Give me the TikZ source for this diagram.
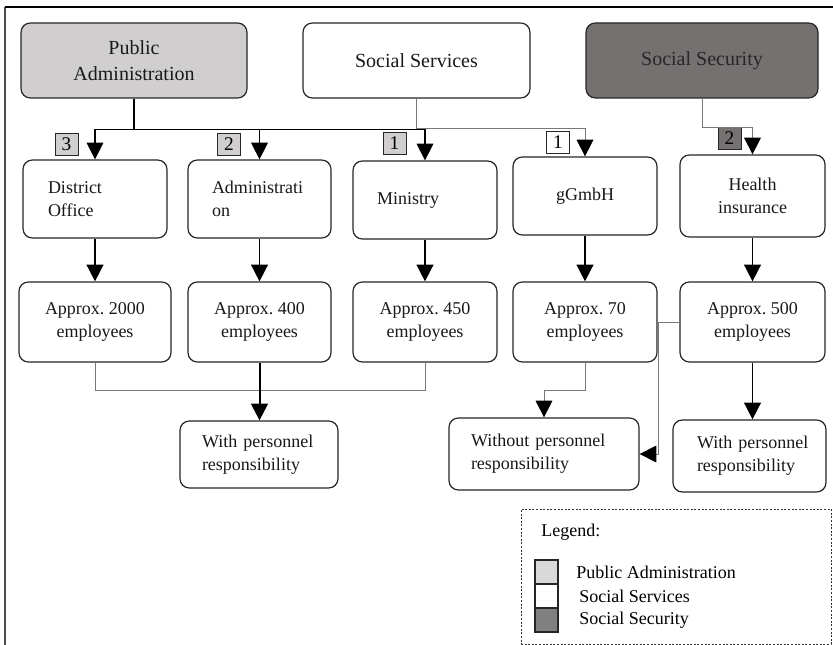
\documentclass[tikz,border=0pt]{standalone}
\usepackage{fontspec}
\setmainfont{Liberation Serif}
\usetikzlibrary{arrows.meta}
\definecolor{palight}{RGB}{208,206,206}
\definecolor{secdark}{RGB}{118,113,113}
\definecolor{legdark}{RGB}{128,128,128}
\definecolor{legl}{RGB}{217,217,217}
\definecolor{conngray}{RGB}{120,120,120}
\begin{document}
\begin{tikzpicture}[x=0.75pt,y=-0.75pt,
  sz/.style 2 args={minimum width=#1*0.75pt, minimum height=#2*0.75pt},
  lt/.style={align=left, text width=#1*0.75pt},
  box/.style={draw=black!85, line width=0.9pt, rounded corners=7pt, inner sep=0pt, fill=white, text=black!90, font=\fontsize{13.5}{17}\selectfont},
  head/.style={box, font=\fontsize{15}{19}\selectfont, align=center},
  tag/.style={draw=black!85, line width=0.6pt, minimum width=23*0.75pt, minimum height=22*0.75pt, inner sep=0pt, font=\fontsize{14.5}{14}\selectfont},
  tip/.style={-{Triangle[width=12.5pt,length=12.5pt,color=black]}},
  conn/.style={tip, line width=0.8pt, draw=black},
  grayconn/.style={tip, line width=0.7pt, draw=conngray},
  heavy/.style={tip, line width=1.2pt, draw=black},
  sw/.style={draw=black!85, line width=0.8pt, minimum width=23*0.75pt, minimum height=24*0.75pt, inner sep=0pt},
  legtxt/.style={anchor=west, inner sep=0pt, font=\fontsize{13.5}{16}\selectfont}
]
\useasboundingbox (0,0) rectangle (833,645);
\fill[white] (0,0) rectangle (833,645);
% frame
\draw[black!70, line width=1.3pt] (5,7) -- (5,645);
\draw[black, line width=1.1pt] (5,7) -- (833,7);

% headers
\node[head, fill=palight, sz={226}{75}] (pa) at (134,60.5) {Public\\Administration};
\node[head, fill=white, sz={227}{75}] (ss) at (416.5,60.5) {Social Services};
\node[head, fill=secdark, sz={232}{75}, text=black!85] (sec) at (702,60.5) {Social Security};

% row 1
\node[box, sz={144}{78}, lt={94}] (district) at (95,199) {District\\Office};
\node[box, sz={143}{78}, lt={95}] (admin) at (259.5,199) {Administrati\\on};
\node[box, sz={144}{78}, lt={96}] (ministry) at (425,200) {Ministry};
\node[box, sz={144}{78}, align=center] (ggmbh) at (585,196) {gGmbH};
\node[box, sz={145}{82}, align=center] (health) at (752.5,196) {Health\\insurance};

% row 2
\node[box, sz={152}{80}, align=center] (e2000) at (95,322) {Approx.~2000\\employees};
\node[box, sz={143}{80}, align=center] (e400) at (259.5,322) {Approx.~400\\employees};
\node[box, sz={144}{80}, align=center] (e450) at (425,322) {Approx.~450\\employees};
\node[box, sz={144}{80}, align=center] (e70) at (585,322) {Approx.~70\\employees};
\node[box, sz={145}{80}, align=center] (e500) at (752.5,322) {Approx.~500\\employees};

% bottom row
\node[box, sz={158}{67}, lt={114}] (wp1) at (259,454.5) {\mbox{With personnel}\\\mbox{responsibility}};
\node[box, sz={190}{72}, lt={146}] (wop) at (544,454) {\mbox{Without personnel}\\\mbox{responsibility}};
\node[box, sz={153}{72}, lt={105}] (wp2) at (749.5,456) {\mbox{With personnel}\\\mbox{responsibility}};

% tags
\node[tag, fill=palight] (t3) at (66.5,144) {3};
\node[tag, fill=palight] (t2) at (229,144) {2};
\node[tag, fill=palight] (t1a) at (394.5,143) {1};
\node[tag, fill=white] (t1b) at (558,142) {1};
\node[tag, fill=secdark] (t2b) at (729.5,138.5) {2};

% connectors from headers
\draw[conn] (pa.south) -- ++(0,31) -| (district.north);
\draw[conn] (pa.south) -- ++(0,31) -| (admin.north);
\draw[conn] (pa.south) -- ++(0,31) -| (ministry.north);
\draw[grayconn] (ss.south) -- ++(0,30) -| (ggmbh.north);
\draw[grayconn] (sec.south) -- ++(0,29) -| (health.north);

% row 1 -> row 2
\draw[heavy] (district.south) -- (e2000.north);
\draw[heavy] (admin.south) -- (e400.north);
\draw[heavy] (ministry.south) -- (e450.north);
\draw[heavy] (ggmbh.south) -- (e70.north);
\draw[heavy] (health.south) -- (e500.north);

% row 2 -> bottom
\draw[conngray, line width=0.7pt] (e2000.south) -- ++(0,28) -| (e450.south);
\draw[heavy, line width=1.5pt] (e400.south) -- (e400.south |- wp1.north);
\draw[grayconn] (e70.south) -- ++(0,28) -| (wop.north);
\draw[grayconn] (e500.west) -- ++(-21,0) |- (wop.east);
\draw[heavy] (e500.south) -- (e500.south |- wp2.north);

% legend
\node[draw=black!80, dash pattern=on 1.5pt off 1.2pt, line width=0.6pt, sz={310}{135}, inner sep=0pt] (legend) at (676,576.5) {};
\node[legtxt] (legt) at (541,532) {Legend:};
\node[sw, fill=legl] (sw1) at (546.5,572) {};
\node[sw, fill=white] (sw2) at (546.5,596) {};
\node[sw, fill=legdark] (sw3) at (546.5,620) {};
\node[legtxt] (l1) at (576,572) {Public Administration};
\node[legtxt] (l2) at (579,596) {Social Services};
\node[legtxt] (l3) at (579,620) {Social Security};
\end{tikzpicture}
\end{document}
